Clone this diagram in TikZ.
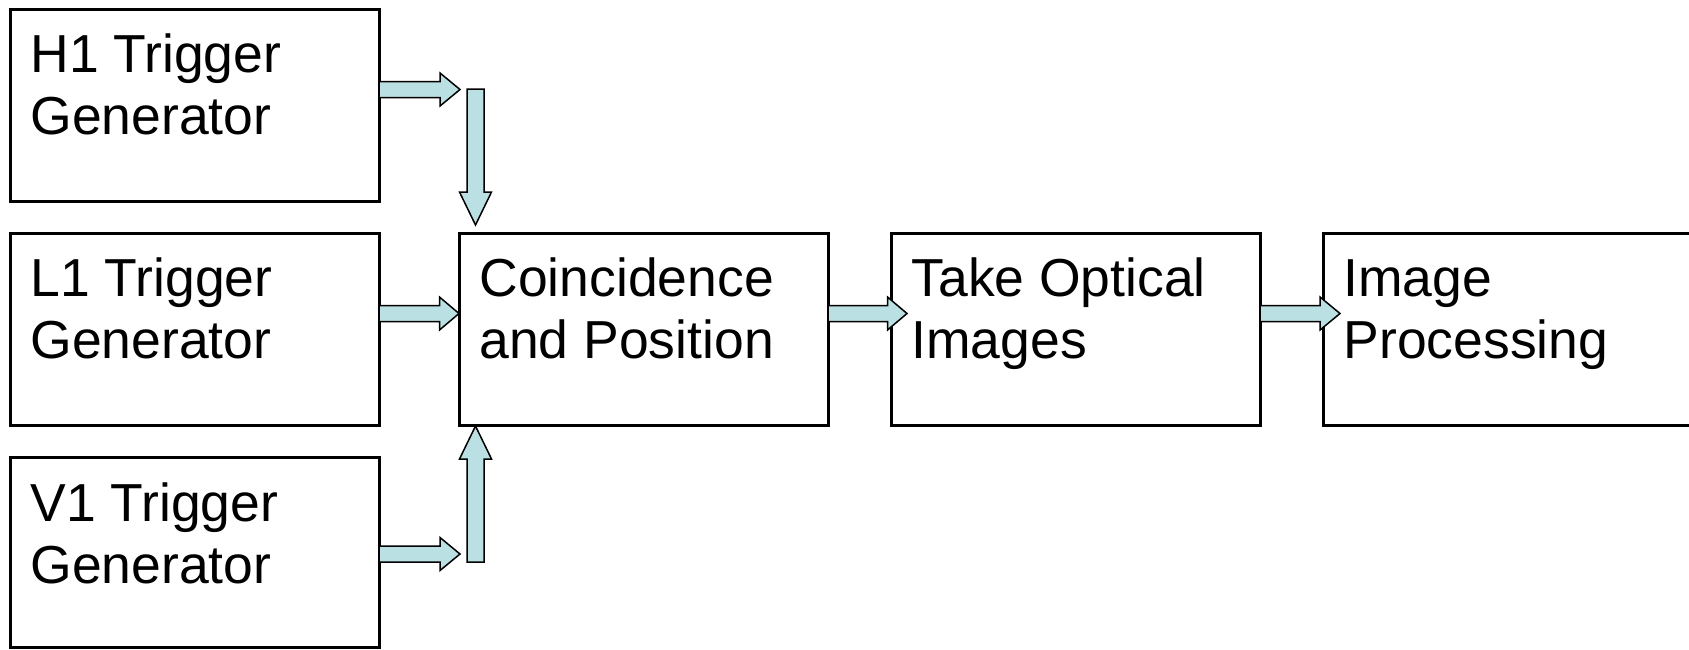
\documentclass[tikz,border=0pt]{standalone}
\usepackage{fontspec}
\setmainfont{Liberation Sans}
\usetikzlibrary{calc}
\definecolor{arrowfill}{RGB}{187,224,228}

% Block arrow pointing along x: #1 tail, #2 tip, #3 x offset from tip to head base
\newcommand{\harrow}[3]{%
  \draw[barrow] ($(#1)+(0,-8)$) -- ($(#2)+(#3,-8)$) -- ($(#2)+(#3,-16.5)$) -- (#2)
    -- ($(#2)+(#3,16.5)$) -- ($(#2)+(#3,8)$) -- ($(#1)+(0,8)$) -- cycle;}
% Block arrow pointing along y: #1 tail, #2 tip, #3 y offset from tip to head base
\newcommand{\varrow}[3]{%
  \draw[barrow] ($(#1)+(-8.5,0)$) -- ($(#2)+(-8.5,#3)$) -- ($(#2)+(-16,#3)$) -- (#2)
    -- ($(#2)+(16,#3)$) -- ($(#2)+(8.5,#3)$) -- ($(#1)+(8.5,0)$) -- cycle;}

\tikzset{
  block/.style={draw=black, line width=3pt, fill=white, inner sep=0pt, outer sep=0pt,
    minimum width=369pt, minimum height=192pt, anchor=north west},
  lbl/.style={anchor=base west, inner sep=0pt, outer sep=0pt,
    font=\fontsize{53.5}{62.5}\selectfont},
  barrow/.style={draw=black, line width=1.5pt, fill=arrowfill, line join=miter},
}

\newcommand{\twolines}[2]{\begin{tabular}[t]{@{}l@{}}#1\\#2\end{tabular}}

\begin{document}
\begin{tikzpicture}[x=1pt, y=-1pt]
  \useasboundingbox (0,0) rectangle (1689,649);

  % boxes
  \node[block] (h1)    at (10,9)     {};
  \node[block] (l1)    at (10,233)   {};
  \node[block, minimum height=190pt] (v1) at (10,457) {};
  \node[block] (coinc) at (459,233)  {};
  \node[block] (take)  at (891,233)  {};
  \node[block] (imgp)  at (1323,233) {};

  % box labels
  \node[lbl] (h1t)    at ($(h1.north west)+(20.5,63)$)    {\twolines{H1 Trigger}{Generator}};
  \node[lbl] (l1t)    at ($(l1.north west)+(20.5,63)$)    {\twolines{L1 Trigger}{Generator}};
  \node[lbl] (v1t)    at ($(v1.north west)+(20.5,64)$)    {\twolines{V1 Trigger}{Generator}};
  \node[lbl] (coinct) at ($(coinc.north west)+(20.5,63)$) {\twolines{Coincidence}{and Position}};
  \node[lbl] (taket)  at ($(take.north west)+(20.5,63)$)  {\twolines{Take Optical}{Images}};
  \node[lbl] (imgpt)  at ($(imgp.north west)+(20.5,63)$)  {\twolines{Image}{Processing}};

  % arrow end points
  \coordinate (h1tip)   at (460,89.5);
  \coordinate (h1tail)  at (h1.east |- h1tip);
  \coordinate (dntail)  at (475.5,89);
  \coordinate (dntip)   at ($(coinc.north west)+(16.5,-8)$);
  \coordinate (l1tip)   at ($(coinc.west)+(0,-15.5)$);
  \coordinate (l1tail)  at (l1.east |- l1tip);
  \coordinate (v1tip)   at (460,554);
  \coordinate (v1tail)  at (v1.east |- v1tip);
  \coordinate (uptail)  at (475.5,562);
  \coordinate (uptip)   at ($(coinc.south west)+(16.5,1)$);
  \coordinate (cttail)  at ($(coinc.east)+(0,-15.5)$);
  \coordinate (cttip)   at ($(take.west)+(16,-15.5)$);
  \coordinate (tptail)  at ($(take.east)+(0,-15.5)$);
  \coordinate (tptip)   at ($(imgp.west)+(17,-15.5)$);

  % connectors
  \harrow{h1tail}{h1tip}{-20}
  \varrow{dntail}{dntip}{-33}
  \harrow{l1tail}{l1tip}{-19.5}
  \harrow{v1tail}{v1tip}{-20}
  \varrow{uptail}{uptip}{33}
  \harrow{cttail}{cttip}{-19.5}
  \harrow{tptail}{tptip}{-20}
\end{tikzpicture}
\end{document}
